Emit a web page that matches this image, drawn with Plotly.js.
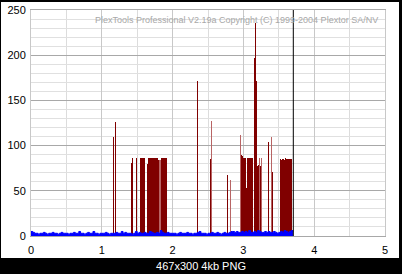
<!DOCTYPE html>
<html>
<head>
<meta charset="utf-8">
<script src="https://cdn.plot.ly/plotly-3.0.1.min.js"></script>
<style>
  html, body { margin: 0; padding: 0; background: #000; width: 402px; height: 274px; overflow: hidden; }
  #chart { position: absolute; left: 1px; top: 2px; width: 398px; height: 256px; background: #fff; }
  #caption { position: absolute; left: 0; top: 258px; width: 402px; height: 16px; color: #fff;
             font: 11px "Liberation Sans", Arial, sans-serif; text-align: center; line-height: 16px; }
</style>
</head>
<body>
<div id="chart"></div>
<div id="caption">467x300 4kb PNG</div>
<script>
// Dark red error bars (position, count)
const redDarkX = [1.168, 1.191, 1.418, 1.428, 1.49,
  1.54, 1.55, 1.56, 1.57, 1.58, 1.59, 1.60, 1.61,
  1.645, 1.655, 1.665, 1.675, 1.685, 1.695, 1.705, 1.715, 1.725, 1.735, 1.745, 1.755, 1.765, 1.775, 1.785, 1.795,
  1.845, 1.855, 1.865, 1.875, 1.885, 1.895, 1.905, 1.915, 1.935,
  2.354, 2.54, 2.773,
  2.975, 2.985, 2.995, 3.005, 3.015, 3.025, 3.035, 3.045, 3.055, 3.065, 3.075, 3.085, 3.095, 3.105, 3.115, 3.125, 3.135,
  3.16, 3.174, 3.188, 3.198, 3.208, 3.218, 3.24,
  3.352, 3.405,
  3.52, 3.53, 3.54, 3.55, 3.56, 3.57, 3.58, 3.59, 3.60, 3.61, 3.62, 3.63, 3.64, 3.65, 3.66, 3.67, 3.68];
const redDarkY = [110, 126, 81, 86, 86,
  75, 86, 86, 86, 86, 86, 86, 86,
  80, 86, 86, 86, 86, 86, 66, 86, 86, 86, 86, 86, 86, 86, 86, 84,
  86, 86, 86, 86, 86, 86, 86, 86, 74,
  172, 85, 68,
  90, 88, 86, 86, 86, 86, 86, 53, 86, 86, 86, 86, 86, 86, 86, 74, 86,
  197, 236, 171, 77, 78, 77, 77,
  104, 71,
  85, 85, 84, 85, 85, 85, 84, 85, 86, 85, 85, 84, 85, 85, 85, 85, 85];
// Pale red bars
const redLightX = [1.805, 1.815, 1.825, 1.835, 2.556, 2.82, 2.96, 3.23, 3.25, 3.26, 3.39];
const redLightY = [84, 84, 84, 84, 127, 62, 112, 86, 86, 84, 110];
// Blue trace, sampled every 0.025 from 0 to 3.7
const blueStep = 0.025;
const blueY = [
  5,4,3,3,2,3,3,4,3,2,3,3,4,3,3,2,3,4,3,3,
  3,2,3,3,4,3,3,5,3,3,2,3,4,3,3,5,3,3,2,3,
  3,3,4,3,2,3,3,3,4,3,3,5,3,4,3,3,3,2,3,5,
  3,4,3,3,4,3,3,5,4,3,3,4,3,6,4,3,3,4,3,3,
  3,3,2,3,4,3,3,3,4,3,3,2,3,3,4,5,3,3,3,2,
  3,3,4,3,3,4,3,2,3,4,3,3,4,5,5,4,5,4,4,5,
  4,5,4,6,4,4,5,4,6,5,4,4,5,4,5,4,4,5,4,3,
  4,5,4,6,5,4,5,6,5];
const blueX = blueY.map((_, i) => +(i * blueStep).toFixed(3));
const cursorX = 3.705;
const xTicks = [0, 1, 2, 3, 4, 5];
const yTicks = [0, 50, 100, 150, 200, 250];
const watermark = "PlexTools Professional V2.19a Copyright (C) 1999-2004 Plextor SA/NV";

const font = { family: '"Liberation Sans", Arial, sans-serif', size: 11, color: '#000' };

const traces = [
  { type: 'bar', x: redLightX, y: redLightY, width: 0.014, marker: { color: '#b86464', line: { width: 0 } }, hoverinfo: 'skip' },
  { type: 'bar', x: redDarkX, y: redDarkY, width: 0.014, marker: { color: '#800000', line: { width: 0 } }, hoverinfo: 'skip' },
  { type: 'scatter', mode: 'lines', x: blueX, y: blueY, line: { color: '#0000ff', width: 1, shape: 'hv' },
    fill: 'tozeroy', fillcolor: '#0000ff', hoverinfo: 'skip' }
];

const layout = {
  width: 398, height: 256,
  margin: { l: 30, r: 14, t: 8, b: 22 },
  paper_bgcolor: '#fff', plot_bgcolor: '#fff',
  showlegend: false, barmode: 'overlay', bargap: 0,
  font: font,
  xaxis: {
    range: [0, 5], tickvals: xTicks, ticktext: xTicks.map(String),
    showgrid: true, gridcolor: '#c8c8c8', gridwidth: 1,
    minor: { dtick: 0.5, showgrid: true, gridcolor: '#dcdcdc', gridwidth: 1 },
    zeroline: false, showline: true, linecolor: '#a8a8a8', mirror: true,
    ticks: 'outside', ticklen: 4, tickcolor: 'rgba(0,0,0,0)', tickfont: font, fixedrange: true
  },
  yaxis: {
    range: [0, 250], tickvals: yTicks, ticktext: yTicks.map(String),
    showgrid: true, gridcolor: '#a8a8a8', gridwidth: 1,
    minor: { dtick: 10, showgrid: true, gridcolor: '#e0e0e0', gridwidth: 1 },
    zeroline: false, showline: true, linecolor: '#c8c8c8', mirror: true,
    ticks: 'outside', ticklen: 2, tickcolor: 'rgba(0,0,0,0)', tickfont: font, fixedrange: true
  },
  shapes: [
    { type: 'line', xref: 'x', yref: 'paper', x0: cursorX, x1: cursorX, y0: 0, y1: 1, line: { color: '#000', width: 1 } }
  ],
  annotations: [
    { xref: 'paper', yref: 'paper', x: 0.986, y: 0.956, xanchor: 'right', yanchor: 'middle', showarrow: false,
      text: watermark, font: { family: '"Liberation Sans", Arial, sans-serif', size: 9, color: '#a8a8a8' } }
  ]
};

Plotly.newPlot('chart', traces, layout, { displayModeBar: false, staticPlot: true });
</script>
</body>
</html>
